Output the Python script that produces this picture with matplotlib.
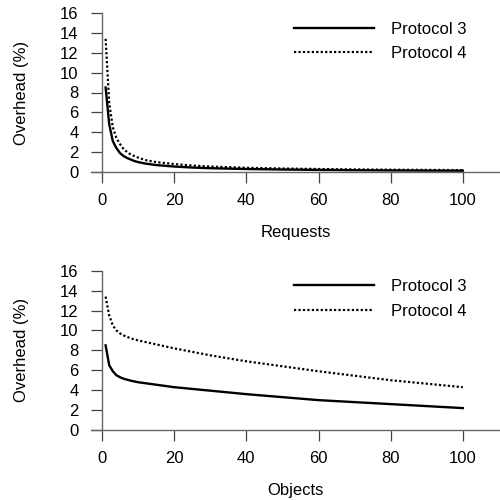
import matplotlib.pyplot as plt

plt.rcParams['font.family'] = ['Liberation Sans', 'DejaVu Sans']
plt.rcParams['font.size'] = 12

# Top panel: overhead vs number of requests
requests = [1, 2, 3, 4, 5, 6, 7, 8, 9, 10, 12, 15, 20, 25, 30, 40, 50, 60, 70, 80, 90, 100]
req_p3 = [8.5, 4.8, 3.1, 2.4, 1.9, 1.6, 1.4, 1.25, 1.1, 1.0, 0.85, 0.7, 0.55, 0.45,
          0.38, 0.3, 0.25, 0.21, 0.18, 0.16, 0.14, 0.13]
req_p4 = [13.4, 6.9, 4.5, 3.4, 2.8, 2.3, 2.0, 1.75, 1.6, 1.45, 1.2, 1.0, 0.8, 0.65,
          0.55, 0.42, 0.35, 0.3, 0.26, 0.23, 0.21, 0.19]

# Bottom panel: overhead vs number of objects
objects = [1, 2, 3, 4, 5, 6, 8, 10, 15, 20, 30, 40, 50, 60, 70, 80, 90, 100]
obj_p3 = [8.5, 6.5, 5.9, 5.5, 5.3, 5.15, 4.95, 4.8, 4.55, 4.3, 3.95, 3.6, 3.3,
          3.0, 2.8, 2.6, 2.4, 2.2]
obj_p4 = [13.4, 11.5, 10.5, 10.0, 9.7, 9.5, 9.2, 9.0, 8.6, 8.2, 7.5, 6.9, 6.4,
          5.9, 5.45, 5.0, 4.65, 4.3]

labels = ['Protocol 3', 'Protocol 4']
yticks = [0, 2, 4, 6, 8, 10, 12, 14, 16]
xticks = [0, 20, 40, 60, 80, 100]

fig = plt.figure(figsize=(5, 5), dpi=100)
ax1 = fig.add_axes([0.182, 0.656, 0.818, 0.318])
ax2 = fig.add_axes([0.182, 0.14, 0.818, 0.3186])

panels = [(ax1, requests, req_p3, req_p4, 'Requests'),
          (ax2, objects, obj_p3, obj_p4, 'Objects')]

for ax, x, p3, p4, xlabel in panels:
    ax.plot(x, p3, color='black', lw=1.7, label=labels[0])
    ax.plot(x, p4, color='black', lw=1.6, linestyle=(0, (1, 1)), label=labels[1])
    ax.set_xlim(-3.05, 110.3)
    ax.set_ylim(0, 16)
    ax.set_xticks(xticks)
    ax.set_yticks(yticks)
    for side in ['top', 'right']:
        ax.spines[side].set_visible(False)
    ax.spines['left'].set_position(('data', 0))
    ax.spines['left'].set_color('#666666')
    ax.spines['bottom'].set_color('#666666')
    ax.spines['left'].set_linewidth(1.0)
    ax.spines['bottom'].set_linewidth(1.0)
    ax.tick_params(direction='out', length=8, width=0.9, color='#444444',
                   labelsize=12, labelcolor='black')
    ax.tick_params(axis='x', pad=7)
    ax.tick_params(axis='y', pad=9)
    ax.set_xlabel(xlabel, fontsize=12, labelpad=12)
    ax.set_ylabel('Overhead (%)', fontsize=12, labelpad=22)
    ax.legend(loc='upper left', bbox_to_anchor=(0.46, 1.04), frameon=False,
              handlelength=4.8, handletextpad=1.0, labelspacing=0.57, fontsize=12)

fig.savefig('out.png', dpi=100)
